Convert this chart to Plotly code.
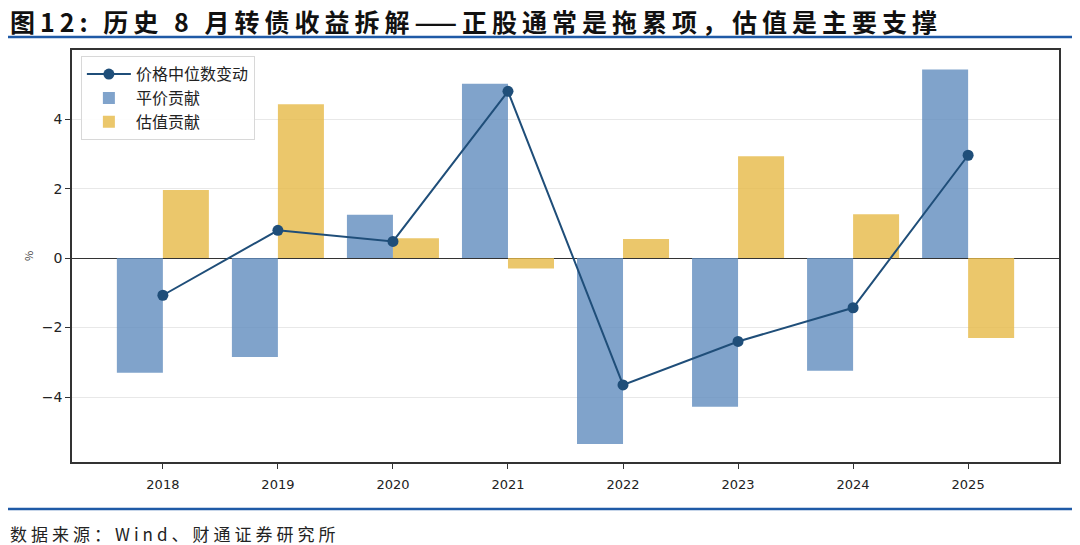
import plotly.graph_objects as go

years = [2018, 2019, 2020, 2021, 2022, 2023, 2024, 2025]
parity = [-3.30, -2.85, 1.25, 5.02, -5.35, -4.28, -3.24, 5.43]
valuation = [1.96, 4.43, 0.57, -0.30, 0.55, 2.93, 1.26, -2.30]
median_change = [-1.07, 0.80, 0.48, 4.80, -3.65, -2.40, -1.43, 2.96]

title = "图12: 历史 8 月转债收益拆解——正股通常是拖累项，估值是主要支撑"
source = "数据来源：Wind、财通证券研究所"

blue = "rgba(96,140,190,0.8)"
yellow = "rgba(230,185,70,0.8)"
line_c = "#1f4e79"
font_cjk = "Noto Sans CJK SC"

# page body has an 8px margin; compensate so the plot lands where the reference has it
OFF = 8
W, H = 1072, 537
ML, MR, MT, MB = 64, 21, 42, 83
plot_h = H - MT - MB
plot_w = W - ML - MR


def py(page_y):
    fy = page_y - OFF
    return 1 - (fy - MT) / plot_h


def px(page_x):
    fx = page_x - OFF
    return (fx - ML) / plot_w


fig = go.Figure()
fig.add_trace(go.Scatter(x=years, y=median_change, mode="lines+markers", name="价格中位数变动",
                         line=dict(color=line_c, width=2), marker=dict(size=11, color=line_c)))
fig.add_trace(go.Bar(x=years, y=parity, name="平价贡献", width=0.4, offset=-0.4,
                     marker=dict(color=blue, line=dict(width=0))))
fig.add_trace(go.Bar(x=years, y=valuation, name="估值贡献", width=0.4, offset=0,
                     marker=dict(color=yellow, line=dict(width=0))))

fig.update_layout(
    width=W, height=H,
    margin=dict(l=ML, r=MR, t=MT, b=MB, autoexpand=False),
    paper_bgcolor="white", plot_bgcolor="white",
    barmode="overlay",
    showlegend=True,
    legend=dict(x=0.009, y=0.985, xanchor="left", yanchor="top", traceorder="normal",
                bgcolor="rgba(255,255,255,0.9)", bordercolor="#d8d8d8", borderwidth=1,
                itemwidth=44,
                font=dict(family=font_cjk, size=16, color="#222")),
    font=dict(family="DejaVu Sans", color="#222"),
)
fig.update_xaxes(range=[2017.21, 2025.79], tickvals=years, ticktext=[str(y) for y in years],
                 showgrid=False, showline=True, linecolor="#333", linewidth=1.5, mirror=True,
                 ticks="outside", ticklen=5, tickcolor="#333", tickfont=dict(size=13, family="DejaVu Sans"),
                 ticklabelstandoff=5, zeroline=False)
fig.update_yaxes(range=[-5.87, 5.99], tickvals=[-4, -2, 0, 2, 4],
                 ticktext=["−4", "−2", "0", "2", "4"],
                 showgrid=True, gridcolor="#e8e8e8", gridwidth=1,
                 showline=True, linecolor="#333", linewidth=1.5, mirror=True,
                 ticks="outside", ticklen=5, tickcolor="#333", tickfont=dict(size=14, family="DejaVu Sans"),
                 zeroline=True, zerolinecolor="#333", zerolinewidth=1,
                 title=dict(text="%", font=dict(size=11, family=font_cjk, color="#444"), standoff=6))

fig.add_annotation(text='<span style="letter-spacing:5px"><b>' + title + "</b></span>",
                   xref="paper", yref="paper",
                   x=px(8), y=py(21), xanchor="left", yanchor="middle", showarrow=False,
                   font=dict(family=font_cjk, size=25, color="#111"))
fig.add_annotation(text='<span style="letter-spacing:4px">' + source + "</span>",
                   xref="paper", yref="paper",
                   x=px(8), y=py(533), xanchor="left", yanchor="middle", showarrow=False,
                   font=dict(family=font_cjk, size=17, color="#222"))
fig.add_shape(type="line", xref="paper", yref="paper", x0=px(0), x1=px(1080),
              y0=py(37), y1=py(37), line=dict(color="#1f5aa6", width=2.5), layer="above")
fig.add_shape(type="line", xref="paper", yref="paper", x0=px(0), x1=px(1080),
              y0=py(509), y1=py(509), line=dict(color="#1f5aa6", width=2.5), layer="above")

fig.write_html("out.html")
